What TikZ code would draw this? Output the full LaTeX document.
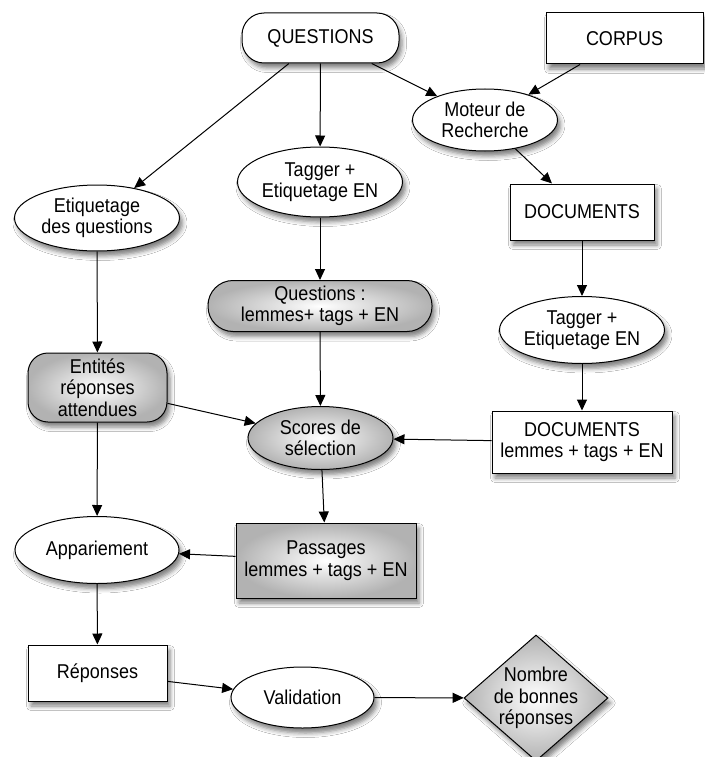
\documentclass[tikz,border=0pt]{standalone}
\usepackage{fontspec}
\setmainfont{Liberation Sans}[FakeStretch=0.9]
\usetikzlibrary{shapes.geometric,arrows.meta,shadows.blur}
\newcommand{\nodefont}{\fontsize{20}{21.5}\selectfont}
\begin{document}
\begin{tikzpicture}[x=1pt,y=-1pt,
  base/.style={draw=black, line width=1pt, font=\nodefont, align=center, inner sep=0pt, fill=white,
    blur shadow={shadow xshift=3pt, shadow yshift=-5pt, shadow blur radius=4.5pt, shadow opacity=50}},
  ell/.style={base, ellipse},
  box/.style={base, rectangle},
  rbox/.style={base, rectangle, rounded corners=#1},
  grayfill/.style={shading=radial, inner color=white, outer color=black!30},
  conn/.style={line width=1pt, -{Triangle[length=11pt,width=10pt]}}]
\fill[white] (0,0) rectangle (704,757);
\useasboundingbox (0,0) rectangle (704,757);

\node[rbox=22pt, minimum width=157, minimum height=50] (Q) at (320.5,38) {QUESTIONS};
\node[box, minimum width=157, minimum height=51] (C) at (624.5,38.5) {CORPUS};
\node[ell, minimum width=145, minimum height=62] (M) at (485,120) {Moteur de\\Recherche};
\node[ell, minimum width=165, minimum height=70] (T1) at (320,182) {Tagger +\\Etiquetage EN};
\node[ell, minimum width=165, minimum height=66] (EQ) at (97,218) {Etiquetage\\des questions};
\node[box, minimum width=144, minimum height=56] (D1) at (582,212) {DOCUMENTS};
\node[rbox=25pt, grayfill, minimum width=224, minimum height=51] (QL) at (320,306) {Questions :\\lemmes+ tags + EN};
\node[ell, minimum width=165, minimum height=67] (T2) at (582,330) {Tagger +\\Etiquetage EN};
\node[rbox=20pt, grayfill, minimum width=139, minimum height=69] (ER) at (97.5,387.5) {Entités\\réponses\\attendues};
\node[ell, grayfill, minimum width=145, minimum height=63] (S) at (320.5,438) {Scores de\\sélection};
\node[box, minimum width=180, minimum height=62] (D2) at (582,442) {DOCUMENTS\\lemmes + tags + EN};
\node[box, grayfill, minimum width=180, minimum height=75] (P) at (326,560.5) {Passages\\lemmes + tags + EN};
\node[ell, minimum width=164, minimum height=67] (A) at (97,550) {Appariement};
\node[box, minimum width=139, minimum height=56] (R) at (97.5,673) {Réponses};
\node[ell, minimum width=143, minimum height=61] (V) at (302.5,697.5) {Validation};
\node[base, diamond, grayfill, minimum width=144, minimum height=126,
  label={[font=\nodefont, align=center]center:Nombre\\de bonnes\\réponses}] (N) at (536,698) {};

\draw[conn] (Q) -- (EQ);
\draw[conn] (Q) -- (T1);
\draw[conn] (Q) -- (M);
\draw[conn] (C) -- (M);
\draw[conn] (M) -- (D1);
\draw[conn] (T1) -- (QL);
\draw[conn] (EQ) -- (ER);
\draw[conn] (D1) -- (T2);
\draw[conn] (T2) -- (D2);
\draw[conn] (QL) -- (S);
\draw[conn] (ER) -- (S);
\draw[conn] (D2) -- (S);
\draw[conn] (S) -- (P);
\draw[conn] (ER) -- (A);
\draw[conn] (P) -- (A);
\draw[conn] (A) -- (R);
\draw[conn] (R) -- (V);
\draw[conn] (V) -- (N);
\end{tikzpicture}
\end{document}
